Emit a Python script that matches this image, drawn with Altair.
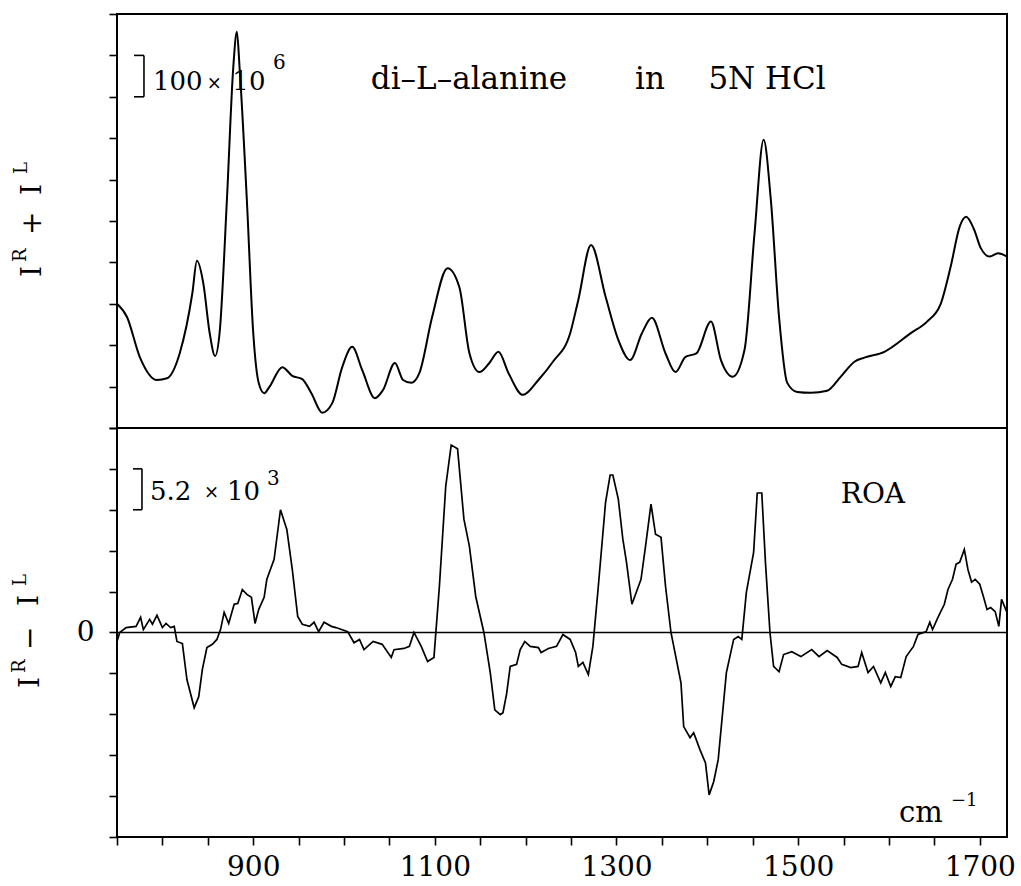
import altair as alt
import pandas as pd

# ---- data (x in cm^-1, y in axis-tick units) ----
wn_sum = [750, 761, 775, 794, 805, 819, 833, 838, 845, 852, 858, 863, 871, 878, 882, 885,
          893, 900, 906, 912, 918, 932, 943, 954, 964, 976, 987, 998, 1009, 1020, 1034,
          1043, 1056, 1065, 1074, 1083, 1097, 1114, 1127, 1138, 1149, 1160, 1170, 1181,
          1197, 1214, 1230, 1249, 1258, 1272, 1288, 1302, 1315, 1328, 1339, 1354, 1365,
          1376, 1388, 1404, 1415, 1428, 1441, 1452, 1462, 1470, 1479, 1488, 1499, 1514,
          1532, 1547, 1562, 1573, 1595, 1624, 1642, 1657, 1668, 1678, 1685, 1694, 1701,
          1711, 1720, 1730]
int_sum = [3.0, 2.68, 1.72, 1.16, 1.2, 1.8, 3.26, 4.04, 3.5, 2.3, 1.74, 2.3, 5.5, 8.7, 9.57, 8.7,
           5.5, 2.3, 1.09, 0.84, 1.0, 1.47, 1.26, 1.18, 0.84, 0.37, 0.6, 1.47, 1.96, 1.4, 0.72,
           0.92, 1.57, 1.16, 1.09, 1.33, 2.68, 3.86, 3.4, 1.81, 1.35, 1.57, 1.84, 1.33,
           0.8, 1.16, 1.6, 2.29, 3.1, 4.42, 3.17, 2.13, 1.64, 2.29, 2.66, 1.8, 1.35,
           1.72, 1.8, 2.57, 1.64, 1.24, 1.89, 4.7, 6.96, 5.5, 2.68, 1.09, 0.87, 0.85,
           0.9, 1.24, 1.6, 1.7, 1.84, 2.29, 2.57, 3.0, 3.9, 4.87, 5.1, 4.78, 4.35,
           4.14, 4.22, 4.14]

wn_roa = [750, 753, 760, 771, 776, 779, 786, 789, 794, 800, 804, 809, 813, 816, 822, 827,
          835, 840, 844, 849, 855, 860, 864, 868, 873, 879, 883, 888, 893, 898, 902, 906,
          912, 915, 923, 930, 937, 943, 949, 954, 962, 967, 972, 978, 986, 991, 1004, 1011,
          1017, 1022, 1032, 1042, 1052, 1055, 1066, 1072, 1077, 1085, 1092, 1099, 1105,
          1112, 1118, 1125, 1132, 1138, 1145, 1154, 1161, 1166, 1172, 1175, 1179, 1183,
          1190, 1194, 1199, 1205, 1214, 1217, 1225, 1234, 1241, 1249, 1255, 1258, 1263,
          1269, 1274, 1280, 1288, 1293, 1296, 1302, 1307, 1311, 1317, 1327, 1332, 1338,
          1343, 1349, 1354, 1360, 1371, 1374, 1381, 1385, 1392, 1398, 1402, 1407, 1412,
          1421, 1429, 1434, 1438, 1443, 1451, 1455, 1460, 1464, 1469, 1473, 1479, 1484,
          1493, 1503, 1515, 1523, 1532, 1543, 1548, 1558, 1566, 1570, 1577, 1583, 1591,
          1596, 1602, 1607, 1613, 1619, 1627, 1632, 1641, 1645, 1648, 1654, 1661, 1665,
          1670, 1674, 1678, 1683, 1687, 1691, 1695, 1700, 1704, 1708, 1712, 1717, 1721,
          1724, 1730]
int_roa = [-0.22, 0.0, 0.12, 0.15, 0.37, 0.07, 0.32, 0.2, 0.42, 0.12, 0.22, 0.12, 0.15, -0.22, -0.27, -1.15,
           -1.84, -1.57, -0.9, -0.37, -0.29, -0.17, 0.07, 0.49, 0.22, 0.69, 0.71, 1.05, 0.93, 0.86, 0.22, 0.56,
           0.86, 1.3, 1.79, 3.0, 2.52, 1.54, 0.39, 0.2, 0.15, 0.25, 0.02, 0.25, 0.15, 0.12, 0.02, -0.25,
           -0.17, -0.42, -0.22, -0.29, -0.61, -0.42, -0.39, -0.34, 0.0, -0.34, -0.71, -0.61, 1.13,
           3.58, 4.58, 4.49, 2.77, 2.11, 0.88, 0.0, -0.98, -1.89, -2.01, -1.96, -1.5, -0.83,
           -0.78, -0.42, -0.22, -0.34, -0.37, -0.49, -0.39, -0.34, -0.05, -0.17, -0.49, -0.83, -0.73,
           -1.03, -0.34, 1.13, 3.19, 3.85, 3.85, 3.26, 2.28, 1.72, 0.69, 1.3, 2.11, 3.14,
           2.4, 2.33, 1.13, 0.0, -1.23, -2.3, -2.57, -2.45, -2.87, -3.19, -3.97, -3.65, -3.11,
           -0.98, -0.17, -0.1, -0.17, 0.98, 1.96, 3.41, 3.41, 1.72, 0.0, -0.83, -0.96, -0.54,
           -0.47, -0.59, -0.42, -0.59, -0.44, -0.61, -0.78, -0.86, -0.83, -0.49, -0.98, -0.83, -1.23,
           -0.98, -1.32, -1.08, -1.1, -0.59, -0.34, -0.05, 0.02, 0.25, 0.07, 0.37, 0.69, 1.05,
           1.3, 1.67, 1.72, 2.03, 1.54, 1.23, 1.3, 1.18, 0.88, 0.56, 0.61, 0.51, 0.15,
           0.81, 0.49]

x_ticks = list(range(750, 1701, 50))
x_labels = [900, 1100, 1300, 1500, 1700]
y_ticks_sum = list(range(0, 11))
y_ticks_roa = list(range(-5, 6))

sum_df = pd.DataFrame({"wn": wn_sum, "val": int_sum})
roa_df = pd.DataFrame({"wn": wn_roa, "val": int_roa})
one = pd.DataFrame({"k": [0]})

SERIF = "DejaVu Serif"
xs = alt.Scale(domain=[750, 1730], nice=False, zero=False)
ys_sum = alt.Scale(domain=[-9.88, 10], nice=False, zero=False)
ys_roa = alt.Scale(domain=[-5, 15.12], nice=False, zero=False)

lab_list = ",".join(str(v) for v in x_labels)
x_axis = alt.Axis(values=x_ticks, title=None, domain=False, grid=False,
                  tickSize=8, tickWidth=1.6, tickColor="black",
                  labelExpr=f"indexof([{lab_list}], datum.value) >= 0 ? '' + datum.value : ''",
                  labelFont=SERIF, labelFontSize=28, labelColor="black",
                  labelPadding=8, labelOverlap=False, labelFlush=False)
y_axis_sum = alt.Axis(values=y_ticks_sum, labels=False, title=None, domain=False, grid=False,
                      tickSize=8, tickWidth=1.6, tickColor="black", orient="left")
y_axis_roa = alt.Axis(values=y_ticks_roa, title=None, domain=False, grid=False,
                      tickSize=8, tickWidth=1.6, tickColor="black", orient="left",
                      labelExpr="datum.value == 0 ? '0' : ''",
                      labelFont=SERIF, labelFontSize=28, labelColor="black",
                      labelPadding=15, labelOverlap=False)


def dtext(txt, x, y, size=28, align="left"):
    return alt.Chart(one).mark_text(text=txt, font=SERIF, fontSize=size, align=align,
                                    baseline="alphabetic", color="black").encode(
        x=alt.XDatum(x), y=alt.YDatum(y))


def vtext(txt, px, py, size=28):
    return alt.Chart(one).mark_text(text=txt, font=SERIF, fontSize=size, align="left",
                                    baseline="alphabetic", angle=270, color="black").encode(
        x=alt.value(px), y=alt.value(py))


def hrule(x1, x2, y):
    return alt.Chart(one).mark_rule(color="black", strokeWidth=1.6).encode(
        x=alt.XDatum(x1), x2=alt.X2Datum(x2), y=alt.YDatum(y))


def vrule(x, y1, y2):
    return alt.Chart(one).mark_rule(color="black", strokeWidth=1.6).encode(
        x=alt.XDatum(x), y=alt.YDatum(y1), y2=alt.Y2Datum(y2))


# ---- upper panel: I^R + I^L ----
sum_line = alt.Chart(sum_df).mark_line(interpolate="monotone", color="black", strokeWidth=2).encode(
    x=alt.X("wn:Q", scale=xs, axis=x_axis),
    y=alt.Y("val:Q", scale=ys_sum, axis=y_axis_sum),
)
divider = alt.Chart(one).mark_rule(color="black", strokeWidth=2).encode(y=alt.YDatum(0))

top = alt.layer(
    sum_line, divider,
    vrule(779.7, 8, 9), hrule(768.7, 779.7, 8), hrule(768.7, 779.7, 9),
    dtext("100", 789.6, 8.16, size=26), dtext("×", 857.0, 8.2, size=18, align="center"),
    dtext("10", 877.0, 8.16, size=26), dtext("6", 921.8, 8.68, size=20),
    dtext("di–L–alanine", 1137.6, 8.2, size=31, align="center"),
    dtext("in", 1336.9, 8.2, size=31, align="center"),
    dtext("5N HCl", 1465.8, 8.2, size=31, align="center"),
)

# ---- lower panel: I^R - I^L (ROA) ----
roa_line = alt.Chart(roa_df).mark_line(color="black", strokeWidth=1.7).encode(
    x=alt.X("wn:Q", scale=xs, axis=x_axis),
    y=alt.Y("val:Q", scale=ys_roa, axis=y_axis_roa),
)
zero = alt.Chart(one).mark_rule(color="black", strokeWidth=1.6).encode(y=alt.YDatum(0))

bottom = alt.layer(
    roa_line, zero,
    vrule(777.5, 3, 4), hrule(767.6, 777.5, 3), hrule(767.6, 777.5, 4),
    dtext("5.2", 786.3, 3.24, size=26), dtext("×", 854.0, 3.28, size=18, align="center"),
    dtext("10", 871.1, 3.24, size=26), dtext("3", 915.2, 3.6, size=20),
    dtext("ROA", 1582.4, 3.17, size=28, align="center"),
    dtext("cm", 1611.1, -4.63, size=29), dtext("−1", 1668.3, -4.24, size=18),
)

# ---- rotated axis titles (pixel positions relative to the plot area) ----
titles = alt.layer(
    vtext("I", -76, 263), vtext("R", -91, 248, size=18), vtext("+", -76, 221),
    vtext("I", -76, 181), vtext("L", -90, 160, size=18),
    vtext("I", -78, 674), vtext("R", -92, 659, size=18), vtext("−", -78, 636),
    vtext("I", -79, 592), vtext("L", -91, 572, size=18),
)

chart = alt.layer(top, bottom, titles).resolve_scale(y="independent").properties(
    width=890, height=823,
    background="white",
    autosize=alt.AutoSizeParams(type="none"),
    padding={"left": 117, "top": 14, "right": 14, "bottom": 49},
).configure_view(stroke="black", strokeWidth=2)

chart.save("out.html", embed_options={"renderer": "svg", "actions": False})
